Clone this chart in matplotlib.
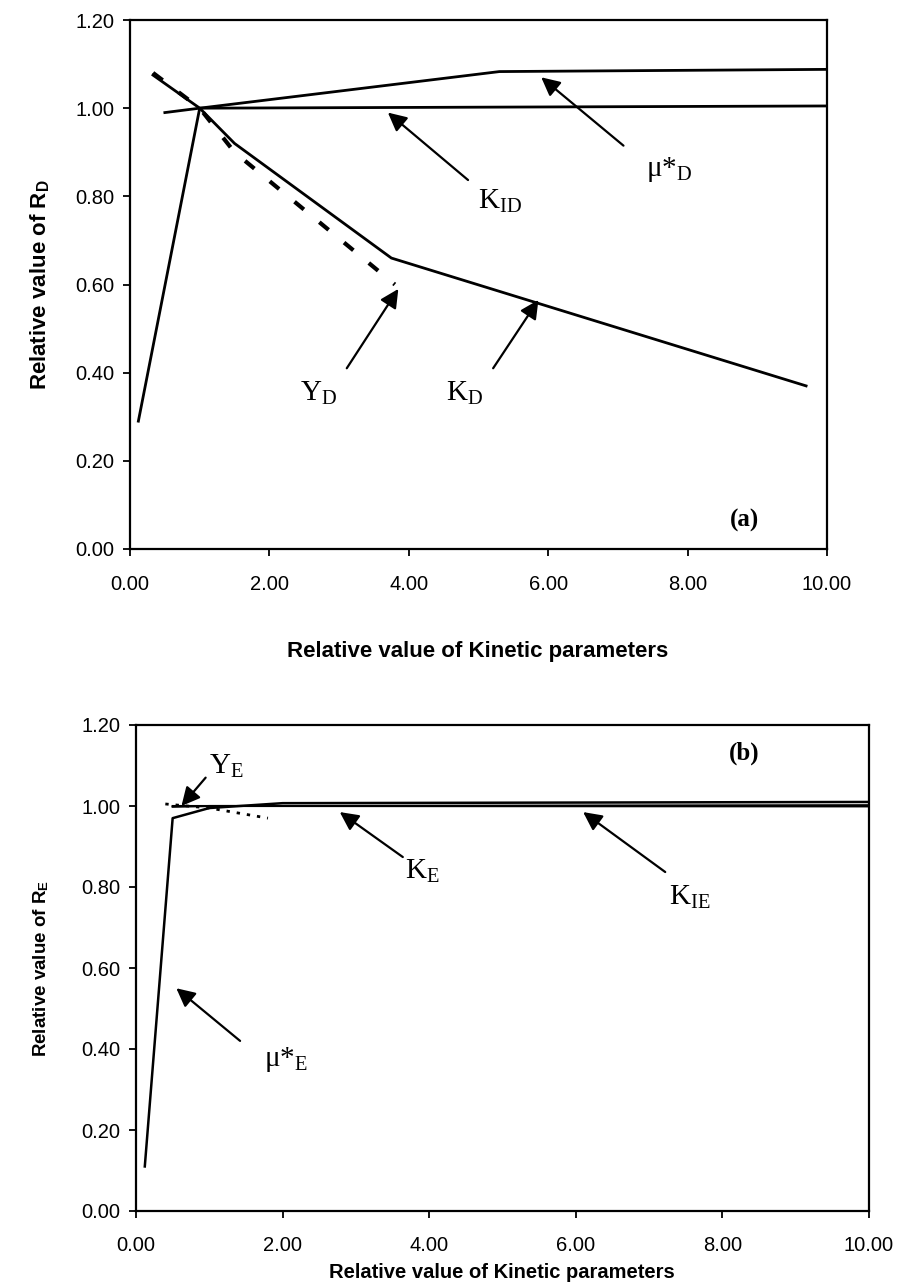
import matplotlib
matplotlib.use("Agg")
import matplotlib.pyplot as plt

plt.rcParams['font.family'] = ['Liberation Sans', 'DejaVu Sans']
plt.rcParams['mathtext.fontset'] = 'custom'
plt.rcParams['mathtext.rm'] = 'Liberation Serif'
plt.rcParams['mathtext.it'] = 'Liberation Serif:italic'
plt.rcParams['mathtext.bf'] = 'Liberation Serif:bold'
plt.rcParams['mathtext.sf'] = 'Liberation Sans:bold'

# ---------------- Panel (a) data ----------------
muD_x = [0.12, 1.0, 5.3, 10.0]
muD_y = [0.29, 1.0, 1.083, 1.088]
KID_x = [0.5, 1.0, 10.0]
KID_y = [0.99, 1.0, 1.005]
KD_x = [0.33, 1.0, 1.5, 3.75, 9.7]
KD_y = [1.075, 1.0, 0.92, 0.66, 0.37]
YD_x = [0.33, 1.0, 1.5, 3.8]
YD_y = [1.08, 1.0, 0.90, 0.60]

# ---------------- Panel (b) data ----------------
muE_x = [0.12, 0.5, 1.0, 2.0, 10.0]
muE_y = [0.11, 0.97, 0.995, 1.007, 1.01]
KE_x = [0.5, 1.0, 10.0]
KE_y = [1.0, 1.0, 0.999]
KIE_x = [0.5, 1.0, 10.0]
KIE_y = [0.998, 1.0, 1.002]
YE_x = [0.4, 1.0, 1.8]
YE_y = [1.005, 0.995, 0.97]

xticks = [0, 2, 4, 6, 8, 10]
yticks = [0, 0.2, 0.4, 0.6, 0.8, 1.0, 1.2]
xlabel = "Relative value of Kinetic parameters"

W, H = 900, 1284
fig = plt.figure(figsize=(W / 100, H / 100), dpi=100)


def axes_px(l, r, t, b):
    return fig.add_axes([l / W, 1 - b / H, (r - l) / W, (b - t) / H])


def style(ax, ticksize, xpad):
    ax.set_xlim(0, 10)
    ax.set_ylim(0, 1.2)
    ax.set_xticks(xticks)
    ax.set_yticks(yticks)
    ax.set_xticklabels([f"{v:.2f}" for v in xticks])
    ax.set_yticklabels([f"{v:.2f}" for v in yticks])
    ax.tick_params(direction='out', length=5, width=1.3, labelsize=ticksize,
                   top=False, right=False)
    ax.tick_params(axis='x', pad=xpad)
    ax.tick_params(axis='y', pad=6)
    for s in ax.spines.values():
        s.set_linewidth(1.6)
        s.set_color('black')


arrow = dict(arrowstyle='-|>', lw=1.6, color='black', mutation_scale=28,
             shrinkA=0, shrinkB=0)
lab_fs = 21

# ---------------- Panel (a) ----------------
axa = axes_px(130, 827, 20, 549)
style(axa, 14.5, 14)
axa.plot(muD_x, muD_y, color='black', lw=2.0)
axa.plot(KID_x, KID_y, color='black', lw=2.0)
axa.plot(KD_x, KD_y, color='black', lw=2.0)
axa.plot(YD_x, YD_y, color='black', lw=3.0, linestyle=(0, (2.9, 4.8)))

axa.annotate('', xy=(5.9, 1.07), xytext=(7.08, 0.915), arrowprops=arrow)
axa.text(7.4, 0.86, r'$\mathrm{\mu}$*$_{\mathrm{D}}$', fontsize=lab_fs,
         family=['Liberation Serif'], ha='left', va='center')
axa.annotate('', xy=(3.7, 0.99), xytext=(4.85, 0.837), arrowprops=arrow)
axa.text(5.0, 0.79, r'$\mathrm{K}_{\mathrm{ID}}$', fontsize=lab_fs,
         ha='left', va='center')
axa.annotate('', xy=(3.85, 0.59), xytext=(3.11, 0.41), arrowprops=arrow)
axa.text(2.7, 0.354, r'$\mathrm{Y}_{\mathrm{D}}$', fontsize=lab_fs,
         ha='center', va='center')
axa.annotate('', xy=(5.86, 0.565), xytext=(5.21, 0.41), arrowprops=arrow)
axa.text(4.8, 0.354, r'$\mathrm{K}_{\mathrm{D}}$', fontsize=lab_fs,
         ha='center', va='center')
axa.text(8.82, 0.065, '(a)', fontsize=18, fontweight='bold',
         family=['Liberation Serif'], ha='center', va='center')
axa.set_ylabel('Relative value of R$_\\mathsf{D}$', fontsize=16,
               fontweight='bold', labelpad=18)
fig.text(478 / W, 1 - 651 / H, xlabel, fontsize=16, fontweight='bold',
         ha='center', va='center')

# ---------------- Panel (b) ----------------
axb = axes_px(136, 869, 725, 1211)
style(axb, 14.5, 13)
axb.plot(muE_x, muE_y, color='black', lw=1.8)
axb.plot(KE_x, KE_y, color='black', lw=1.5)
axb.plot(KIE_x, KIE_y, color='black', lw=1.5)
axb.plot(YE_x, YE_y, color='black', lw=2.0, linestyle=(0, (1.2, 2.5)))

axb.annotate('', xy=(0.55, 0.55), xytext=(1.42, 0.42), arrowprops=arrow)
axb.text(1.75, 0.375, r'$\mathrm{\mu}$*$_{\mathrm{E}}$', fontsize=lab_fs,
         family=['Liberation Serif'], ha='left', va='center')
axb.annotate('', xy=(2.78, 0.985), xytext=(3.64, 0.874), arrowprops=arrow)
axb.text(3.9, 0.84, r'$\mathrm{K}_{\mathrm{E}}$', fontsize=lab_fs,
         ha='center', va='center')
axb.annotate('', xy=(6.1, 0.985), xytext=(7.22, 0.837), arrowprops=arrow)
axb.text(7.55, 0.775, r'$\mathrm{K}_{\mathrm{IE}}$', fontsize=lab_fs,
         ha='center', va='center')
axb.annotate('', xy=(0.62, 1.0), xytext=(0.95, 1.07), arrowprops=arrow)
axb.text(1.0, 1.10, r'$\mathrm{Y}_{\mathrm{E}}$', fontsize=lab_fs,
         ha='left', va='center')
axb.text(8.3, 1.13, '(b)', fontsize=18, fontweight='bold',
         family=['Liberation Serif'], ha='center', va='center')
axb.set_ylabel('Relative value of R$_\\mathsf{E}$', fontsize=13.5,
               fontweight='bold', labelpad=22)
fig.text(502 / W, 1 - 1272 / H, xlabel, fontsize=14.5, fontweight='bold',
         ha='center', va='center')

fig.savefig('out.png', dpi=100)
